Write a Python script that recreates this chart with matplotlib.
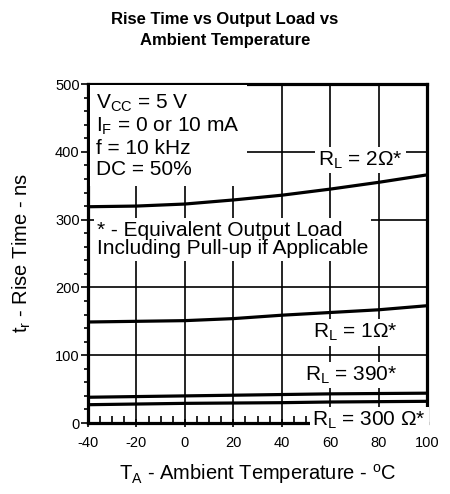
import matplotlib
matplotlib.use('Agg')
import matplotlib.pyplot as plt
from matplotlib.ticker import MultipleLocator

plt.rcParams['font.family'] = ['Liberation Sans', 'DejaVu Sans']
plt.rcParams['mathtext.default'] = 'regular'
plt.rcParams['axes.unicode_minus'] = False

# readings
temps = [-40, -20, 0, 20, 40, 60, 80, 100]
rise_2ohm = [319, 320, 323, 329, 336, 345, 355, 366]
rise_1ohm = [149, 150, 151, 154, 159, 163, 167, 173]
rise_390 = [38, 39, 40, 41, 42, 43, 43.5, 44]
rise_300 = [27, 28, 29, 29.5, 30, 31, 31.5, 32]

title = 'Rise Time vs Output Load vs\nAmbient Temperature'
conditions = 'V$_{CC}$ = 5 V\nI$_{F}$ = 0 or 10 mA\nf = 10 kHz\nDC = 50%'
note = '* - Equivalent Output Load\nIncluding Pull-up if Applicable'

fig = plt.figure(figsize=(4.5, 4.94), dpi=100)
ax = fig.add_axes([0.1956, 0.1437, 0.7533, 0.6862])

for series in [rise_2ohm, rise_1ohm, rise_390, rise_300]:
    ax.plot(temps, series, color='black', lw=2.3, solid_capstyle='butt')

ax.set_xlim(-40, 100)
ax.set_ylim(0, 500)
ax.xaxis.set_major_locator(MultipleLocator(20))
ax.xaxis.set_minor_locator(MultipleLocator(5))
ax.yaxis.set_major_locator(MultipleLocator(100))
ax.yaxis.set_minor_locator(MultipleLocator(20))
ax.grid(which='major', color='black', lw=1.2)
ax.set_axisbelow(True)

ax.tick_params(axis='x', which='major', direction='inout', length=6, width=1.2,
               labelsize=10.5, pad=6)
ax.tick_params(axis='x', which='minor', direction='in', length=5, width=1.2)
ax.tick_params(axis='y', which='major', direction='out', length=5, width=1.2,
               labelsize=10.5, pad=1)
ax.tick_params(axis='y', which='minor', direction='out', length=3, width=1.2)
for s in ax.spines.values():
    s.set_linewidth(2.3)

ax.set_xlabel('T$_{A}$ - Ambient Temperature - $^{o}$C', fontsize=14.5, labelpad=9)
ax.set_ylabel('t$_{r}$ - Rise Time - ns', fontsize=14.5, labelpad=16)

fig.text(0.5, 0.976, title, ha='center', va='top', fontsize=12,
         fontweight='bold', linespacing=1.55)

box = dict(facecolor='white', edgecolor='none', pad=2)
ax.text(-36.5, 487, conditions, ha='left', va='top', fontsize=15,
        linespacing=1.12, bbox=dict(facecolor='white', edgecolor='none', pad=5))
ax.text(-36.3, 298, note, ha='left', va='top', fontsize=15,
        linespacing=0.95, bbox=box)
ax.text(55, 388, 'R$_{L}$ = 2Ω*', ha='left', va='center', fontsize=15, bbox=box)
ax.text(53, 133, 'R$_{L}$ = 1Ω*', ha='left', va='center', fontsize=15, bbox=box)
ax.text(49.7, 71, 'R$_{L}$ = 390*', ha='left', va='center', fontsize=15, bbox=box)
ax.text(52.6, 4, 'R$_{L}$ = 300 Ω*', ha='left', va='center', fontsize=15, bbox=box)

fig.savefig('out.png', dpi=100)
